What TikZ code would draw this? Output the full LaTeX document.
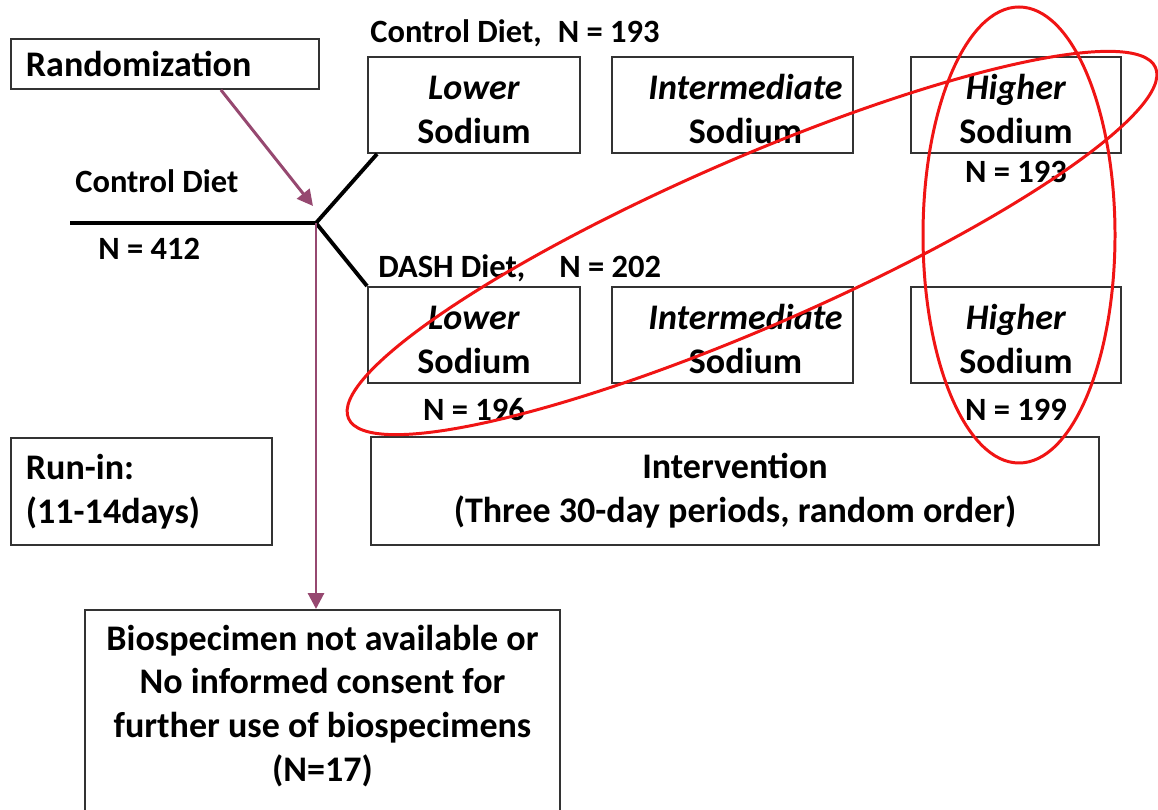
\documentclass[tikz,border=0pt]{standalone}
\usepackage{fontspec}
\setmainfont{Carlito}
\usetikzlibrary{arrows.meta}
\definecolor{plum}{RGB}{150,72,112}
\definecolor{ovalred}{RGB}{240,20,20}

\begin{document}
\begin{tikzpicture}[x=0.02cm, y=-0.02cm, >={Triangle[length=9pt,width=9pt]},
    font=\fontsize{20.5}{25}\selectfont\bfseries,
    box/.style={draw=black!80, line width=1.1pt, inner sep=0pt, align=center},
    arm/.style={box, minimum height=1.92cm},
    leftbox/.style={box, anchor=north west, align=left, inner xsep=0.3cm},
    lbl/.style={inner sep=0pt, anchor=west, font=\fontsize{18.5}{22}\selectfont\bfseries},
    count/.style={inner sep=0pt, font=\fontsize{18.5}{22}\selectfont\bfseries},
    branch/.style={line width=2.2pt},
    flow/.style={draw=plum, line width=1.7pt, ->},
    oval/.style={draw=ovalred, line width=1.7pt}]
    \useasboundingbox (0,0) rectangle (1158,810);
    \clip (0,0) rectangle (1158,810);

    % Randomisierung und Vorlauf
    \node[leftbox, text width=5.56cm, minimum height=1cm] (rand) at (10,38) {Randomization};
    \node[leftbox, text width=4.62cm, minimum height=2.14cm] (runin) at (10,437) {Run-in:\\(11-14days)};

    % Kontrolldiaet
    \node[lbl] (ctltitle) at (370,33) {Control Diet,\hspace{0.5em}N = 193};
    \node[arm, minimum width=4.24cm] (cl) at (474,105) {\rule{0pt}{0.9em}\textit{Lower}\\Sodium};
    \node[arm, minimum width=4.82cm] (ci) at (732.5,105)
        {\rule{0pt}{0.9em}\hspace*{0.52cm}\textit{Intermediate}\\\hspace*{0.52cm}Sodium};
    \node[arm, minimum width=4.2cm] (ch) at (1016,105) {\rule{0pt}{0.9em}\textit{Higher}\\Sodium};
    \node[count] (chn) at (1016,172) {N = 193};

    % DASH-Diaet
    \node[lbl] (dashtitle) at (378,268) {DASH Diet,\hspace{1.05em}N = 202};
    \node[arm, minimum width=4.24cm] (dl) at (474,335) {\rule{0pt}{0.9em}\textit{Lower}\\Sodium};
    \node[arm, minimum width=4.82cm] (di) at (732.5,335)
        {\rule{0pt}{0.9em}\hspace*{0.52cm}\textit{Intermediate}\\\hspace*{0.52cm}Sodium};
    \node[arm, minimum width=4.2cm] (dh) at (1016,335) {\rule{0pt}{0.9em}\textit{Higher}\\Sodium};
    \node[count] (dln) at (474,410) {N = 196};
    \node[count] (dhn) at (1016,410) {N = 199};

    % Intervention
    \node[box, minimum width=14.56cm, minimum height=2.16cm] (interv) at (735,491)
        {Intervention\\(Three 30-day periods, random order)};

    % Ausschluss
    \node[box, minimum width=9.5cm, minimum height=4.6cm, anchor=north] (bio) at (322.5,609) {};
    \node[inner sep=0pt, align=center] (biotxt) at (322.5,706)
        {Biospecimen not available or\\No informed consent for\\further use of biospecimens\\(N=17)};

    % Verzweigung
    \node[lbl] (ctldiet) at (75,181) {Control Diet};
    \node[lbl] (ntotal) at (98,249) {N = 412};
    \coordinate (start) at (70,223);
    \coordinate (J) at (316,223);
    \coordinate (hit) at (313,206);
    \draw[branch] (start) -- (J);
    \draw[branch] ([xshift=0.2cm]cl.south west) -- (J) -- (dl.north west);

    % Pfeile
    \draw[flow] ([xshift=1.12cm]rand.south) -- (hit);
    \draw[flow] (J) -- (J |- bio.north);

    % Ellipsen
    \draw[oval] (1019,235) ellipse [x radius=96, y radius=228];
    \draw[oval, rotate around={23.5:(752,243)}] (752,243) ellipse [x radius=440, y radius=84];
\end{tikzpicture}
\end{document}
